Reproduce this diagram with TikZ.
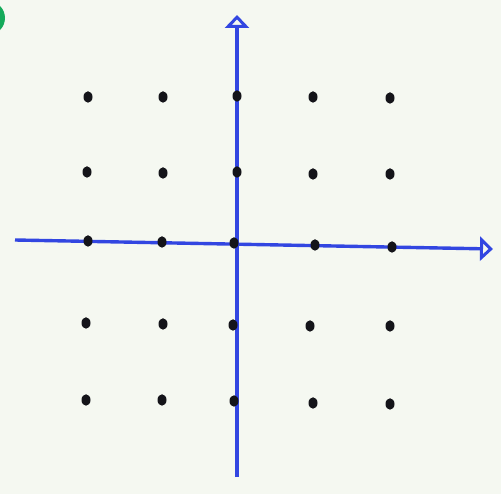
\documentclass[tikz,border=0pt]{standalone}
\usetikzlibrary{arrows.meta,shapes.geometric}
\definecolor{bg}{RGB}{245,248,241}
\definecolor{axisblue}{RGB}{50,70,225}
\definecolor{dotc}{RGB}{20,20,25}
\definecolor{greenc}{RGB}{20,170,90}
\begin{document}
\begin{tikzpicture}[x=1pt,y=-1pt,
  pt/.style={ellipse,fill=dotc,inner sep=0pt,minimum width=9pt,minimum height=11.5pt},
  axis/.style={draw=axisblue,line width=3.4pt,-{Triangle[open,length=13pt,width=24pt,line width=3pt]}}]
\fill[bg] (0,0) rectangle (501,494);
\useasboundingbox (0,0) rectangle (501,494);
\begin{scope}
\clip (0,0) rectangle (501,494);
\fill[greenc] (-12,18) circle (17);
\end{scope}
% axes
\coordinate (xl) at (15,240);
\coordinate (xr) at (493,249);
\coordinate (yb) at (237,477);
\coordinate (yt) at (237,15);
\draw[axis] (xl) -- (xr);
\draw[axis] (yb) -- (yt);
% dots
\foreach \x/\y [count=\i] in {88/97,163/97,237/96,313/97,390/98,
  87/172,163/173,237/172,313/174,390/174,
  88/241,162/242,234/243,315/245,392/247,
  86/323,163/324,233/325,310/326,390/326,
  86/400,162/400,234/401,313/403,390/404}
  \node[pt] (d\i) at (\x,\y) {};
\end{tikzpicture}
\end{document}
